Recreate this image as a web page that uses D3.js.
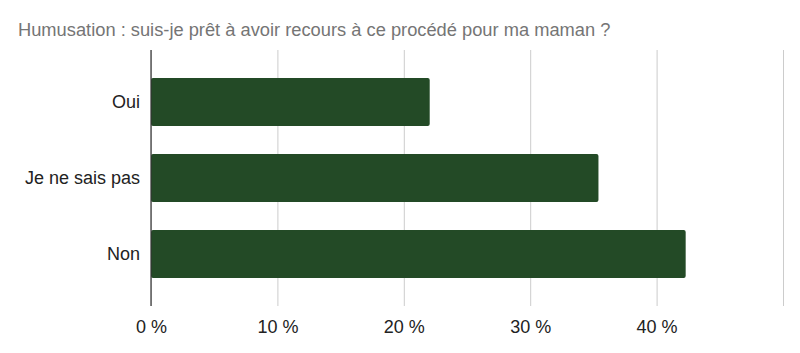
<!DOCTYPE html>
<html>
<head>
<meta charset="utf-8">
<script src="https://cdn.jsdelivr.net/npm/d3@7"></script>
<style>
  body { margin: 0; background: #fff; }
</style>
</head>
<body>
<svg width="800" height="353"></svg>
<script>
const title = 'Humusation : suis-je prêt à avoir recours à ce procédé pour ma maman ?'
const answers = ['Oui', 'Je ne sais pas', 'Non']
const shares = [22.05, 35.4, 42.3]
const xTicks = [0, 10, 20, 30, 40, 50]

const svg = d3.select('svg')
const width = +svg.attr('width')
const height = +svg.attr('height')

const margin = { top: 50, right: 17, bottom: 47, left: 151 }
const innerWidth = width - margin.left - margin.right
const innerHeight = height - margin.top - margin.bottom

const font = "'Liberation Sans', Arial, sans-serif"

const data = answers.map((a, i) => ({ answer: a, share: shares[i] }))

const xScale = d3.scaleLinear()
  .domain([0, 50])
  .range([0, 632])

const yScale = d3.scaleBand()
  .domain(answers)
  .range([0, innerHeight])
  .paddingInner(0.37)
  .paddingOuter(0.37)

svg.append('text')
  .attr('x', 18)
  .attr('y', 36)
  .attr('fill', '#757575')
  .attr('font-family', font)
  .attr('font-size', 18.3)
  .text(title)

const g = svg.append('g')
  .attr('transform', `translate(${margin.left}, ${margin.top})`)

// gridlines + bottom labels
const xAxis = d3.axisBottom(xScale)
  .tickValues(xTicks)
  .tickSize(-innerHeight)
  .tickFormat(d => `${d} %`)

const xAxisGroup = g.append('g')
  .attr('transform', `translate(0, ${innerHeight})`)
  .call(xAxis)
  .attr('font-size', 18)
  .attr('font-family', font)

xAxisGroup.select('.domain').remove()
xAxisGroup.selectAll('.tick line')
  .attr('stroke', '#cccccc')
  .attr('stroke-width', 1)
xAxisGroup.selectAll('.tick text')
  .filter(d => d === 50)
  .remove()
xAxisGroup.selectAll('.tick text')
  .attr('y', 14)
  .attr('fill', '#222')

g.selectAll('rect.bar').data(data)
  .enter().append('rect')
  .attr('class', 'bar')
  .attr('x', 0)
  .attr('y', d => yScale(d.answer))
  .attr('width', d => xScale(d.share))
  .attr('height', yScale.bandwidth())
  .attr('rx', 2)
  .attr('fill', '#234a26')

// zero line
g.append('line')
  .attr('x1', xScale(0)).attr('x2', xScale(0))
  .attr('y1', 0).attr('y2', innerHeight)
  .attr('stroke', '#333')
  .attr('stroke-width', 1.2)

const yAxisGroup = g.append('g')
  .call(d3.axisLeft(yScale).tickSize(0).tickPadding(11))
  .attr('font-size', 18)
  .attr('font-family', font)

yAxisGroup.select('.domain').remove()
yAxisGroup.selectAll('.tick text')
  .attr('fill', '#222')
</script>
</body>
</html>
